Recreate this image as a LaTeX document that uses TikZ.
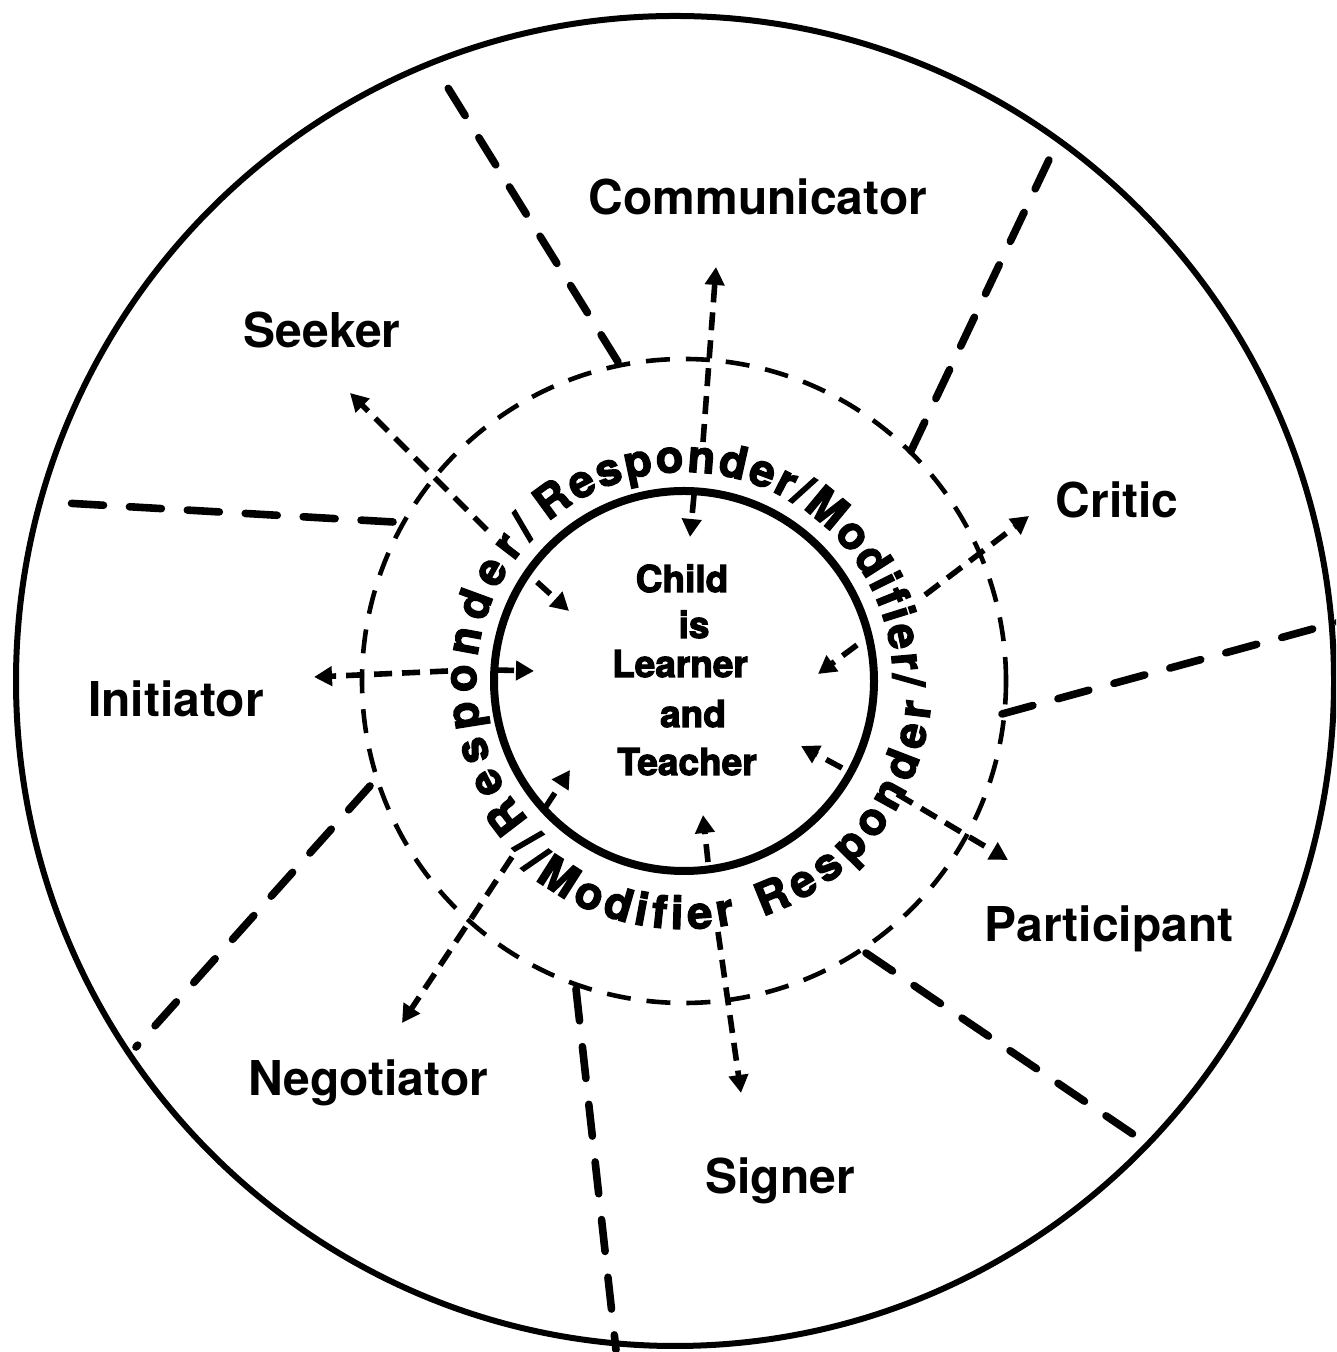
\documentclass[tikz,border=0pt]{standalone}
\usepackage{fontspec}
\setmainfont{TeX Gyre Heros}
\newfontfamily\heavy[BoldFeatures={FakeBold=3}]{TeX Gyre Heros}
\usetikzlibrary{arrows.meta,decorations.text}
\newcommand\ringfont{\heavy\bfseries\fontsize{22.5}{26}\selectfont}

\begin{document}
\begin{tikzpicture}[x=0.5pt,y=0.5pt,
  rim/.style={line width=3pt},
  ring/.style={line width=4pt},
  zone/.style={line width=2.3pt, dash pattern=on 12pt off 8pt},
  divider/.style={line width=3.8pt, line cap=round, dash pattern=on 16pt off 13pt},
  flow/.style={line width=2.8pt, dash pattern=on 9pt off 5pt,
               -{Triangle[length=9pt,width=9.5pt]}},
  role/.style={font=\bfseries\fontsize{24}{28}\selectfont, anchor=base, inner sep=0pt},
  core/.style={font=\heavy\bfseries\fontsize{18.5}{22}\selectfont, anchor=base, inner sep=0pt},
  ringtext/.style={decorate, decoration={text along path, text={|\ringfont|#1},
                   text align={fit to path}}},
]
\useasboundingbox (0,0) rectangle (1336,1352);
\clip (0,0) rectangle (1336,1352);
\fill[white] (0,0) rectangle (1336,1352);

% centres of the rings
\coordinate (C) at (684,671);
\coordinate (O) at (675,671);

% outer boundary, dashed zone and the child circle
\draw[rim] (O) ellipse [x radius=659, y radius=665];
\draw[zone] (C) circle [radius=322];
\draw[ring] (C) circle [radius=190];

% sector dividers (zone -> boundary)
\coordinate (d1in) at (618,990);  \coordinate (d1out) at (435,1285);
\coordinate (d2in) at (911,901);  \coordinate (d2out) at (1056,1207);
\coordinate (d3in) at (1002,638); \coordinate (d3out) at (1342,731);
\coordinate (d4in) at (866,399);  \coordinate (d4out) at (1149,207);
\coordinate (d5in) at (576,363);  \coordinate (d5out) at (616,2);
\coordinate (d6in) at (370,566);  \coordinate (d6out) at (136,305);
\coordinate (d7in) at (393,830);  \coordinate (d7out) at (47,850);
\foreach \i in {1,...,7} \draw[divider] (d\i in) -- (d\i out);

% role labels
\node[role] (communicator) at (758,1137) {Communicator};
\node[role] (seeker)       at (322,1004) {Seeker};
\node[role] (critic)       at (1117,834) {Critic};
\node[role] (initiator)    at (176,635)  {Initiator};
\node[role] (participant)  at (1109,410) {Participant};
\node[role] (negotiator)   at (368,256)  {Negotiator};
\node[role] (signer)       at (780,158)  {Signer};

% centre text
\node[core] (child)   at (682,760) {Child};
\node[core] (is)      at (694,714) {is};
\node[core] (learner) at (680,675) {Learner};
\node[core] (and)     at (693,625) {and};
\node[core] (teacher) at (687,577) {Teacher};

% arrows: outward to each role, inward to the child
\coordinate (comO) at (703,910); \coordinate (comT) at (716,1085);
\coordinate (comI) at (694,857); \coordinate (comH) at (690,815);
\coordinate (seeO) at (487,822); \coordinate (seeT) at (350,959);
\coordinate (seeI) at (537,770); \coordinate (seeH) at (569,741);
\coordinate (criO) at (925,757); \coordinate (criT) at (1029,836);
\coordinate (criI) at (857,707); \coordinate (criH) at (818,678);
\coordinate (iniO) at (448,681); \coordinate (iniT) at (314,675);
\coordinate (iniI) at (496,682); \coordinate (iniH) at (534,681);
\coordinate (negO) at (512,495); \coordinate (negT) at (402,329);
\coordinate (negI) at (545,544); \coordinate (negH) at (570,582);
\coordinate (sigO) at (718,420); \coordinate (sigT) at (741,259);
\coordinate (sigI) at (708,490); \coordinate (sigH) at (703,537);
\coordinate (parO) at (897,558); \coordinate (parT) at (1008,492);
\coordinate (parI) at (842,584); \coordinate (parH) at (801,606);
\foreach \r in {com,see,cri,ini,neg,sig,par} {
  \draw[flow] (\r O) -- (\r T);
  \draw[flow] (\r I) -- (\r H);
}

% lettering around the child circle
\path[ringtext={/Responder/}]
  ([shift={(227.5:208)}]C) arc [start angle=227.5, end angle=134.5, radius=208];
\path[ringtext={Responder/Modifier/}]
  ([shift={(130.5:209)}]C) arc [start angle=130.5, end angle=-1.5, radius=209];
\path[ringtext={/Modifier}]
  ([shift={(-131:248)}]C) arc [start angle=-131, end angle=-78, radius=248];
\path[ringtext={Responder}]
  ([shift={(-71.5:248)}]C) arc [start angle=-71.5, end angle=-5, radius=248];
\end{tikzpicture}
\end{document}
